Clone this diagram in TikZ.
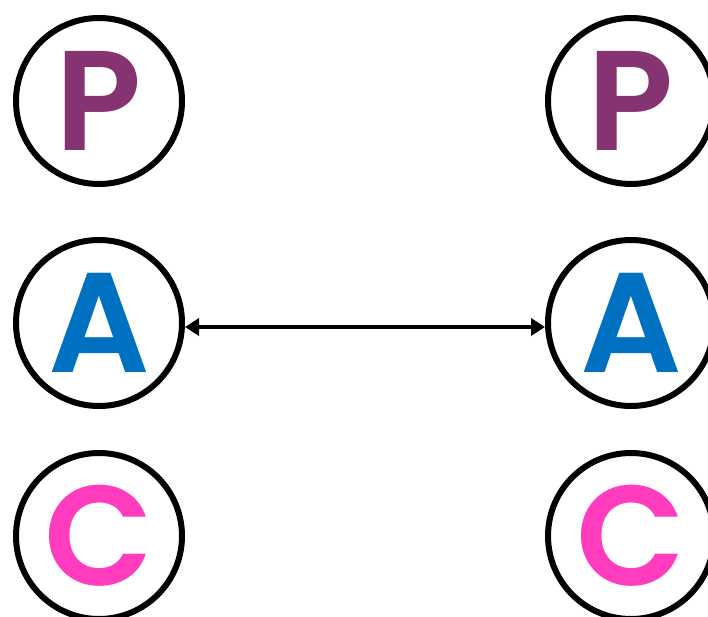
\documentclass[tikz,border=0pt]{standalone}
\usepackage{fontspec}
\newfontfamily\letterfont{Poppins SemiBold}
\usetikzlibrary{arrows.meta}
\definecolor{pcol}{HTML}{863371}
\definecolor{acol}{HTML}{0070C0}
\definecolor{ccol}{HTML}{FF3BBE}
\tikzset{
  letter/.style={circle, draw=black, line width=6pt, minimum size=166pt, inner sep=0pt,
    text height=99pt, text depth=0pt,
    font=\fontsize{142}{142}\selectfont\letterfont},
  link/.style={line width=4pt, {Triangle[length=14pt,width=17pt]}-{Triangle[length=14pt,width=17pt]}}
}
\begin{document}
\begin{tikzpicture}[x=1pt,y=1pt]
\useasboundingbox (0,0) rectangle (708,-617);
\node[letter, text=pcol] (lP) at (99,-101) {P};
\node[letter, text=acol] (lA) at (99,-323) {A};
\node[letter, text=ccol] (lC) at (99,-536) {C};
\node[letter, text=pcol] (rP) at (631,-101) {P};
\node[letter, text=acol] (rA) at (631,-323) {A};
\node[letter, text=ccol] (rC) at (631,-536) {C};
\draw[link] ([yshift=-4pt]lA.east) -- ([yshift=-4pt]rA.west);
\end{tikzpicture}
\end{document}
